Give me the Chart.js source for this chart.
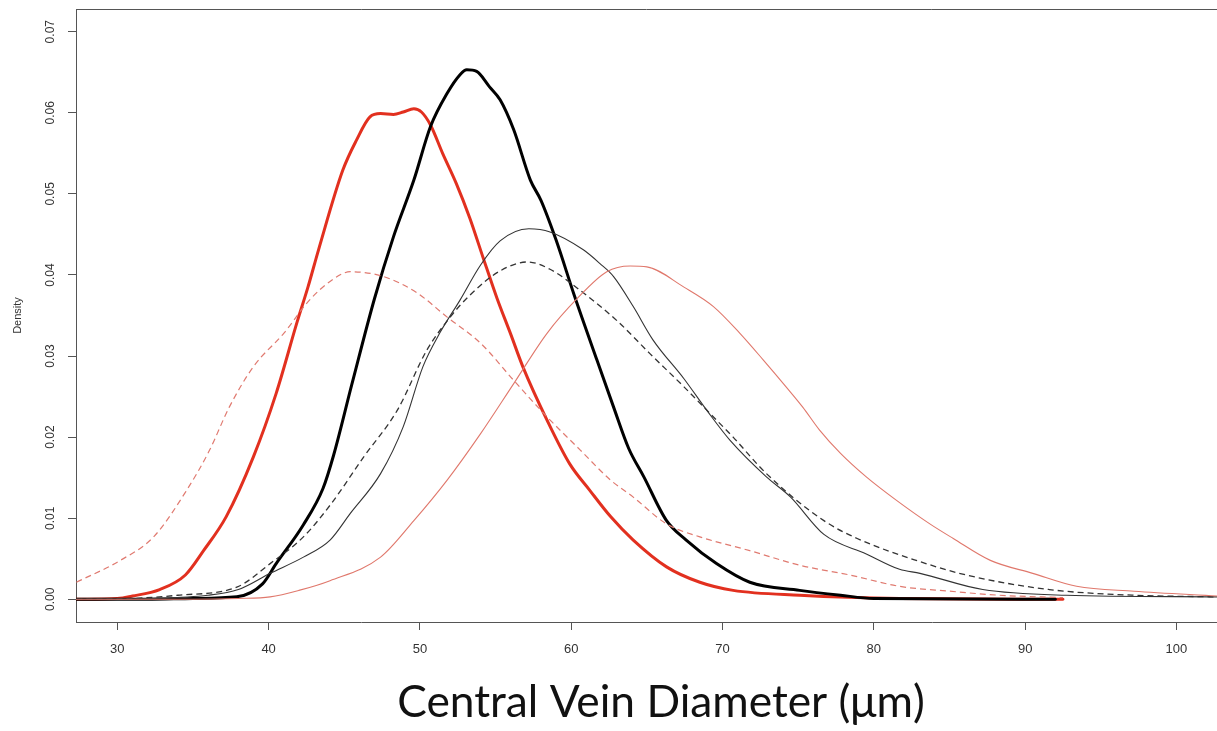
<!DOCTYPE html>
<html lang="en">
<head>
<meta charset="utf-8">
<title>Central Vein Diameter</title>
<script src="https://cdn.jsdelivr.net/npm/chart.js@4.4.1/dist/chart.umd.min.js"></script>
<style>
    html, body { margin: 0; padding: 0; background: #ffffff; }
    #contenedor { position: relative; width: 1217px; height: 731px; }
</style>
</head>
<body>
<div id="contenedor"><canvas id="densityChart"></canvas></div>
<script>
// Marcas de los ejes
const xTicks = [30, 40, 50, 60, 70, 80, 90, 100];
const yTicks = [0, 0.01, 0.02, 0.03, 0.04, 0.05, 0.06, 0.07];

// Curva roja gruesa
const rojoGruesoX = [27.3, 30, 31, 32.8, 34.5, 35.7, 37.2, 39.0, 40.5, 41.9, 42.6, 43.3, 44.9, 45.8, 46.7, 47.4, 48.25, 48.9, 49.6, 50.1, 50.7, 51.5, 52.4, 53.3, 54.2, 55.1, 56.0, 56.8, 58.4, 59.9, 61.2, 62.6, 64.1, 66.3, 68.5, 70.7, 75.1, 81.7, 92.5];
const rojoGruesoY = [0, 0.0001, 0.0004, 0.0012, 0.003, 0.006, 0.0102, 0.0176, 0.0254, 0.0343, 0.0385, 0.0431, 0.0529, 0.0566, 0.0595, 0.0599, 0.0598, 0.0601, 0.0605, 0.0601, 0.0585, 0.055, 0.0513, 0.047, 0.042, 0.0371, 0.0327, 0.0287, 0.0221, 0.0167, 0.0135, 0.0102, 0.0073, 0.004, 0.0021, 0.0011, 0.0005, 0.0001, 0];

// Curva negra gruesa
const negroGruesoX = [27.3, 32, 35, 37.9, 39.6, 40.5, 42.3, 43.6, 44.3, 45.5, 47.0, 48.25, 49.6, 50.7, 51.8, 52.65, 53.1, 53.75, 54.6, 55.3, 56.2, 57.3, 58.0, 59.0, 60.2, 61.7, 62.8, 63.8, 64.8, 66.3, 67.6, 69.6, 71.8, 75.1, 77.8, 80, 92];
const negroGruesoY = [0, 0, 0.0001, 0.0003, 0.0019, 0.0044, 0.0092, 0.0137, 0.0178, 0.0265, 0.0371, 0.0447, 0.0517, 0.0583, 0.0624, 0.0647, 0.0653, 0.0651, 0.0632, 0.0616, 0.0579, 0.0517, 0.0492, 0.0443, 0.0375, 0.0295, 0.0237, 0.0186, 0.0151, 0.0097, 0.0073, 0.0044, 0.0021, 0.0011, 0.0005, 0.0001, 0];

// Curva negra fina
const negroFinoX = [27.3, 32, 36, 38, 40.1, 42.3, 44.06, 45.4, 47.4, 48.9, 50.2, 51.3, 52.65, 54.0, 55.3, 57.2, 58.6, 60.8, 61.9, 62.8, 64.1, 65.4, 67.45, 69.0, 70.5, 72.9, 74.5, 76.7, 79.5, 81.7, 83.05, 87.2, 92.7, 102.7];
const negroFinoY = [0, 0.0001, 0.0005, 0.0012, 0.0032, 0.0052, 0.0073, 0.0106, 0.0155, 0.0213, 0.0287, 0.0328, 0.0369, 0.0412, 0.0442, 0.0457, 0.0453, 0.0431, 0.0414, 0.0398, 0.0361, 0.032, 0.0272, 0.0232, 0.0196, 0.0151, 0.0126, 0.0080, 0.0056, 0.0037, 0.0032, 0.0012, 0.0005, 0.0003];

// Curva negra discontinua
const negroDiscX = [27.3, 31, 34, 37.9, 40.1, 42.3, 44.06, 46.3, 48.5, 50.45, 52.0, 53.3, 55.3, 57.1, 58.6, 60.8, 63.0, 65.2, 67.45, 69.6, 70.7, 72.9, 76.7, 78.9, 82.8, 86.1, 91.6, 97.2, 102.7];
const negroDiscY = [0, 0.0001, 0.0005, 0.0015, 0.0044, 0.0077, 0.0116, 0.0176, 0.0233, 0.0307, 0.0348, 0.0375, 0.0405, 0.0416, 0.0407, 0.0378, 0.0344, 0.0303, 0.0262, 0.0221, 0.02, 0.0155, 0.0097, 0.0075, 0.0048, 0.003, 0.0012, 0.0005, 0.0003];

// Curva roja fina
const rojoFinoX = [27.3, 35, 38, 40.1, 42, 44.06, 47.4, 49.6, 51.8, 54.0, 56.2, 58.4, 60.4, 62.35, 63.9, 65.0, 67.45, 69.4, 71.15, 72.7, 74.2, 75.3, 76.4, 77.8, 79.5, 81.5, 83.7, 85.25, 87.7, 90.5, 93.4, 97.2, 102.7];
const rojoFinoY = [0, 0, 0.0001, 0.0003, 0.0011, 0.0023, 0.0052, 0.0097, 0.0147, 0.0204, 0.0266, 0.0328, 0.0371, 0.0404, 0.0411, 0.041, 0.0385, 0.0361, 0.0328, 0.0295, 0.0262, 0.0237, 0.0209, 0.018, 0.0151, 0.0122, 0.0093, 0.0075, 0.0048, 0.0032, 0.0016, 0.001, 0.0004];

// Curva roja discontinua
const rojoDiscX = [27.3, 30.2, 32.4, 34.6, 36.1, 37.4, 39.0, 41.0, 42.7, 44.06, 45.4, 47.6, 49.8, 51.8, 54.0, 56.2, 58.4, 60.6, 62.6, 64.1, 66.3, 68.5, 71.8, 75.1, 78.4, 81.7, 85, 88.3, 92.5];
const rojoDiscY = [0.0021, 0.0048, 0.0077, 0.0135, 0.0184, 0.0237, 0.0287, 0.0328, 0.0369, 0.0392, 0.0404, 0.0398, 0.0378, 0.0348, 0.0316, 0.027, 0.0225, 0.0184, 0.0147, 0.0126, 0.0093, 0.0077, 0.006, 0.0042, 0.003, 0.0016, 0.001, 0.0005, 0.0002];

// Función para unir x e y en puntos
function puntos(xs, ys) {
    return xs.map((x, i) => ({ x: x, y: ys[i] }));
}

function serie(xs, ys, color, ancho, guiones) {
    return {
        data: puntos(xs, ys),
        showLine: true,
        borderColor: color,
        borderWidth: ancho,
        borderDash: guiones || [],
        borderJoinStyle: 'round',
        borderCapStyle: guiones ? 'butt' : 'round',
        pointRadius: 0,
        fill: false,
        cubicInterpolationMode: 'monotone'
    };
}

// Plugin para el marco superior y los textos al estilo R
const textosR = {
    id: 'textosR',
    afterDraw(chart) {
        const { ctx, chartArea, scales } = chart;
        ctx.save();

        // Línea superior del marco
        ctx.strokeStyle = '#555555';
        ctx.lineWidth = 1;
        ctx.beginPath();
        ctx.moveTo(chartArea.left, chartArea.top + 0.5);
        ctx.lineTo(chartArea.right, chartArea.top + 0.5);
        ctx.stroke();

        // Etiquetas del eje y, giradas
        ctx.fillStyle = '#333333';
        ctx.font = '12px "Liberation Sans", Arial, sans-serif';
        ctx.textAlign = 'center';
        ctx.textBaseline = 'middle';
        yTicks.forEach(v => {
            const py = scales.y.getPixelForValue(v);
            ctx.save();
            ctx.translate(51, py);
            ctx.rotate(-Math.PI / 2);
            ctx.fillText(v.toFixed(2), 0, 0);
            ctx.restore();
        });

        // Título del eje y
        ctx.font = '11px "Liberation Sans", Arial, sans-serif';
        ctx.save();
        ctx.translate(18, (chartArea.top + chartArea.bottom) / 2);
        ctx.rotate(-Math.PI / 2);
        ctx.fillText('Density', 0, 0);
        ctx.restore();

        // Título del eje x, ajustado al ancho del original
        const titulo = 'Central Vein Diameter (μm)';
        ctx.fillStyle = '#111111';
        ctx.font = '45px Lato, "Open Sans", sans-serif';
        const tam = 45 * 528 / ctx.measureText(titulo).width;
        ctx.font = tam.toFixed(1) + 'px Lato, "Open Sans", sans-serif';
        ctx.textBaseline = 'alphabetic';
        ctx.fillText(titulo, 661, 717);

        ctx.restore();
    }
};

document.addEventListener('DOMContentLoaded', function() {
    const ctx = document.getElementById('densityChart').getContext('2d');

    window.densityChart = new Chart(ctx, {
        type: 'scatter',
        data: {
            datasets: [
                serie(rojoFinoX, rojoFinoY, '#e0786c', 1.1),
                serie(rojoDiscX, rojoDiscY, '#e07a70', 1.2, [6, 4]),
                serie(negroDiscX, negroDiscY, '#333333', 1.3, [6, 4]),
                serie(negroFinoX, negroFinoY, '#333333', 1.1),
                serie(negroGruesoX, negroGruesoY, '#000000', 3),
                serie(rojoGruesoX, rojoGruesoY, '#e2301f', 3)
            ]
        },
        options: {
            responsive: true,
            maintainAspectRatio: false,
            animation: false,
            layout: { padding: { top: 9, right: 0, bottom: 0, left: 0 } },
            plugins: {
                legend: { display: false },
                tooltip: { enabled: false }
            },
            scales: {
                x: {
                    type: 'linear',
                    min: 27.27,
                    max: 102.68,
                    afterBuildTicks: function(scale) {
                        scale.ticks = xTicks.map(v => ({ value: v }));
                    },
                    afterFit: function(scale) {
                        scale.height = 109;
                    },
                    grid: {
                        drawOnChartArea: false,
                        drawTicks: true,
                        tickLength: 8,
                        color: '#555555'
                    },
                    border: { display: true, color: '#555555', width: 1 },
                    ticks: {
                        color: '#333333',
                        padding: 12,
                        maxRotation: 0,
                        font: { family: '"Liberation Sans", Arial, sans-serif', size: 13 },
                        callback: function(value) { return value; }
                    }
                },
                y: {
                    type: 'linear',
                    min: -0.0028,
                    max: 0.0728,
                    afterBuildTicks: function(scale) {
                        scale.ticks = yTicks.map(v => ({ value: v }));
                    },
                    afterFit: function(scale) {
                        scale.width = 76;
                    },
                    grid: {
                        drawOnChartArea: false,
                        drawTicks: true,
                        tickLength: 8,
                        color: '#555555'
                    },
                    border: { display: true, color: '#555555', width: 1 },
                    ticks: { display: false }
                }
            }
        },
        plugins: [textosR]
    });
});
</script>
</body>
</html>
